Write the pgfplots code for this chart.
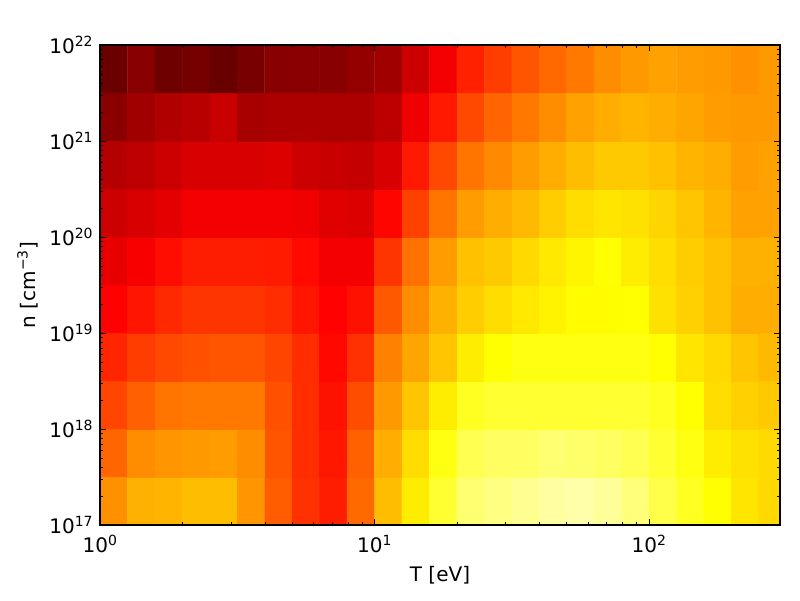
\documentclass[border=0pt]{standalone}
\usepackage{fontspec}
\setmainfont{DejaVu Sans}
\usepackage{pgfplots}
\pgfplotsset{compat=1.18}
\pgfplotstableread{
x y s
1.122 1.778e17 399
1.413 1.778e17 431
1.778 1.778e17 435
2.239 1.778e17 443
2.818 1.778e17 443
3.548 1.778e17 403
4.467 1.778e17 347
5.623 1.778e17 303
7.079 1.778e17 283
8.913 1.778e17 359
11.22 1.778e17 443
14.13 1.778e17 491
17.78 1.778e17 558
22.39 1.778e17 622
28.18 1.778e17 638
35.48 1.778e17 654
44.67 1.778e17 670
56.23 1.778e17 678
70.79 1.778e17 662
89.13 1.778e17 630
112.2 1.778e17 582
141.3 1.778e17 542
177.8 1.778e17 510
223.9 1.778e17 483
281.8 1.778e17 471
1.122 5.623e17 355
1.413 5.623e17 395
1.778 5.623e17 403
2.239 5.623e17 407
2.818 5.623e17 411
3.548 5.623e17 395
4.467 5.623e17 339
5.623 5.623e17 299
7.079 5.623e17 277
8.913 5.623e17 351
11.22 5.623e17 427
14.13 5.623e17 475
17.78 5.623e17 526
22.39 5.623e17 590
28.18 5.623e17 606
35.48 5.623e17 606
44.67 5.623e17 622
56.23 5.623e17 614
70.79 5.623e17 606
89.13 5.623e17 590
112.2 5.623e17 558
141.3 5.623e17 526
177.8 5.623e17 491
223.9 5.623e17 479
281.8 5.623e17 471
1.122 1.778e18 323
1.413 1.778e18 351
1.778 1.778e18 371
2.239 1.778e18 375
2.818 1.778e18 375
3.548 1.778e18 375
4.467 1.778e18 335
5.623 1.778e18 299
7.079 1.778e18 271
8.913 1.778e18 331
11.22 1.778e18 407
14.13 1.778e18 451
17.78 1.778e18 491
22.39 1.778e18 542
28.18 1.778e18 558
35.48 1.778e18 558
44.67 1.778e18 558
56.23 1.778e18 558
70.79 1.778e18 558
89.13 1.778e18 558
112.2 1.778e18 542
141.3 1.778e18 510
177.8 1.778e18 475
223.9 1.778e18 463
281.8 1.778e18 455
1.122 5.623e18 291
1.413 5.623e18 315
1.778 5.623e18 327
2.239 5.623e18 335
2.818 5.623e18 339
3.548 5.623e18 339
4.467 5.623e18 323
5.623 5.623e18 299
7.079 5.623e18 262
8.913 5.623e18 303
11.22 5.623e18 383
14.13 5.623e18 419
17.78 5.623e18 451
22.39 5.623e18 491
28.18 5.623e18 510
35.48 5.623e18 526
44.67 5.623e18 526
56.23 5.623e18 526
70.79 5.623e18 526
89.13 5.623e18 526
112.2 5.623e18 510
141.3 5.623e18 483
177.8 5.623e18 471
223.9 5.623e18 451
281.8 5.623e18 439
1.122 1.778e19 255
1.413 1.778e19 275
1.778 1.778e19 295
2.239 1.778e19 307
2.818 1.778e19 307
3.548 1.778e19 307
4.467 1.778e19 299
5.623 1.778e19 275
7.079 1.778e19 255
8.913 1.778e19 271
11.22 1.778e19 343
14.13 1.778e19 395
17.78 1.778e19 431
22.39 1.778e19 459
28.18 1.778e19 475
35.48 1.778e19 487
44.67 1.778e19 497
56.23 1.778e19 507
70.79 1.778e19 507
89.13 1.778e19 510
112.2 1.778e19 479
141.3 1.778e19 463
177.8 1.778e19 447
223.9 1.778e19 427
281.8 1.778e19 427
1.122 5.623e19 232
1.413 5.623e19 248
1.778 5.623e19 267
2.239 5.623e19 283
2.818 5.623e19 283
3.548 5.623e19 283
4.467 5.623e19 281
5.623 5.623e19 263
7.079 5.623e19 244
8.913 5.623e19 244
11.22 5.623e19 307
14.13 5.623e19 367
17.78 5.623e19 411
22.39 5.623e19 447
28.18 5.623e19 455
35.48 5.623e19 471
44.67 5.623e19 487
56.23 5.623e19 499
70.79 5.623e19 510
89.13 5.623e19 491
112.2 5.623e19 475
141.3 5.623e19 459
177.8 5.623e19 447
223.9 5.623e19 431
281.8 5.623e19 431
1.122 1.778e20 204
1.413 1.778e20 216
1.778 1.778e20 228
2.239 1.778e20 244
2.818 1.778e20 244
3.548 1.778e20 244
4.467 1.778e20 244
5.623 1.778e20 240
7.079 1.778e20 224
8.913 1.778e20 220
11.22 1.778e20 259
14.13 1.778e20 319
17.78 1.778e20 371
22.39 1.778e20 411
28.18 1.778e20 427
35.48 1.778e20 439
44.67 1.778e20 459
56.23 1.778e20 475
70.79 1.778e20 483
89.13 1.778e20 479
112.2 1.778e20 467
141.3 1.778e20 451
177.8 1.778e20 435
223.9 1.778e20 415
281.8 1.778e20 415
1.122 5.623e20 180
1.413 5.623e20 190
1.778 5.623e20 204
2.239 5.623e20 216
2.818 5.623e20 216
3.548 5.623e20 216
4.467 5.623e20 220
5.623 5.623e20 204
7.079 5.623e20 200
8.913 5.623e20 196
11.22 5.623e20 216
14.13 5.623e20 279
17.78 5.623e20 327
22.39 5.623e20 371
28.18 5.623e20 391
35.48 5.623e20 411
44.67 5.623e20 427
56.23 5.623e20 443
70.79 5.623e20 455
89.13 5.623e20 455
112.2 5.623e20 447
141.3 5.623e20 435
177.8 5.623e20 427
223.9 5.623e20 411
281.8 5.623e20 415
1.122 1.778e21 138
1.413 1.778e21 160
1.778 1.778e21 176
2.239 1.778e21 184
2.818 1.778e21 200
3.548 1.778e21 168
4.467 1.778e21 172
5.623 1.778e21 172
7.079 1.778e21 170
8.913 1.778e21 170
11.22 1.778e21 188
14.13 1.778e21 240
17.78 1.778e21 279
22.39 1.778e21 327
28.18 1.778e21 355
35.48 1.778e21 375
44.67 1.778e21 395
56.23 1.778e21 415
70.79 1.778e21 427
89.13 1.778e21 435
112.2 1.778e21 427
141.3 1.778e21 419
177.8 1.778e21 411
223.9 1.778e21 407
281.8 1.778e21 407
1.122 5.623e21 106
1.413 5.623e21 136
1.778 5.623e21 110
2.239 5.623e21 116
2.818 5.623e21 104
3.548 5.623e21 120
4.467 5.623e21 136
5.623 5.623e21 138
7.079 5.623e21 136
8.913 5.623e21 148
11.22 5.623e21 160
14.13 5.623e21 204
17.78 5.623e21 244
22.39 5.623e21 287
28.18 5.623e21 315
35.48 5.623e21 339
44.67 5.623e21 359
56.23 5.623e21 375
70.79 5.623e21 395
89.13 5.623e21 407
112.2 5.623e21 415
141.3 5.623e21 411
177.8 5.623e21 407
223.9 5.623e21 399
281.8 5.623e21 407
}\heatdata
\begin{document}
\fontsize{20}{24}\selectfont
\begin{tikzpicture}
\path[use as bounding box] (-100pt,-75pt) rectangle (700pt,525pt);
\begin{axis}[
  at={(0,0)}, anchor=south west,
  scale only axis, width=680pt, height=480pt,
  xmode=log, ymode=log,
  xmin=1, xmax=300, ymin=1e17, ymax=1e22,
  xtick={1,10,100},
  xticklabels={10\textsuperscript{0},10\textsuperscript{1},10\textsuperscript{2}},
  ytick={1e17,1e18,1e19,1e20,1e21,1e22},
  yticklabels={10\textsuperscript{17},10\textsuperscript{18},10\textsuperscript{19},10\textsuperscript{20},10\textsuperscript{21},10\textsuperscript{22}},
  tick label style={font=\fontsize{20}{24}\selectfont},
  label style={font=\fontsize{20}{24}\selectfont},
  xticklabel style={yshift=-3pt},
  xlabel={T [eV]},
  ylabel={n [cm\textsuperscript{−3}]},
  xlabel style={yshift=0pt},
  ylabel style={yshift=-2pt},
  tick align=inside,
  major tick length=5.6pt, minor tick length=2.8pt,
  tick style={black, line width=0.7pt},
  axis line style={black, line width=1.2pt},
  axis on top,
  colormap={hotsum}{rgb255(0cm)=(0,0,0); rgb255(1cm)=(255,0,0); rgb255(2cm)=(255,255,0); rgb255(3cm)=(255,255,255)},
  point meta min=0, point meta max=765,
]
\addplot[matrix plot*, mesh/cols=25, point meta=explicit] table[x=x, y=y, meta=s] {\heatdata};
\end{axis}
\end{tikzpicture}
\end{document}
